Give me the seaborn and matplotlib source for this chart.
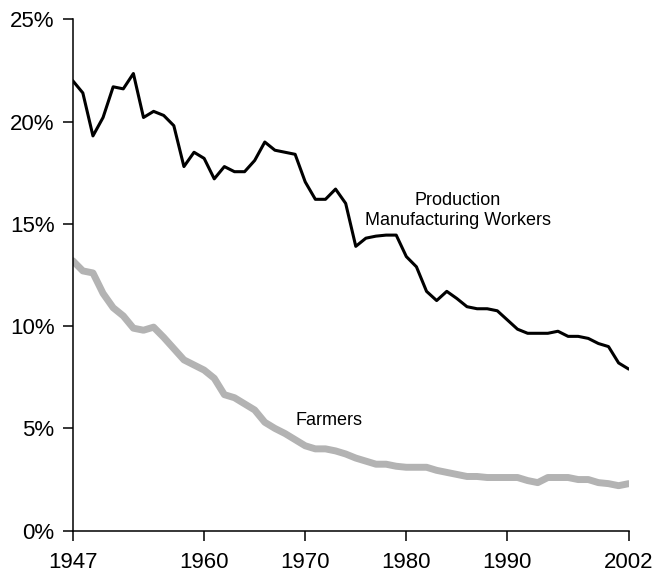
import numpy as np
import pandas as pd
import matplotlib
matplotlib.use("Agg")
import matplotlib.pyplot as plt
import seaborn as sns

# years 1947..2002
years = list(range(1947, 2003))

# share of workforce, percent
production_workers = [
    22.0, 21.4, 19.3, 20.2, 21.7, 21.6, 22.35, 20.2, 20.5, 20.3,
    19.8, 17.8, 18.5, 18.2, 17.2, 17.8, 17.55, 17.55, 18.1, 19.0,
    18.6, 18.5, 18.4, 17.05, 16.2, 16.2, 16.7, 16.0, 13.9, 14.3,
    14.4, 14.45, 14.45, 13.4, 12.9, 11.7, 11.25, 11.7, 11.35, 10.95,
    10.85, 10.85, 10.75, 10.3, 9.85, 9.65, 9.65, 9.65, 9.75, 9.5,
    9.5, 9.4, 9.15, 9.0, 8.2, 7.9,
]
farmers = [
    13.2, 12.7, 12.6, 11.6, 10.9, 10.5, 9.9, 9.8, 9.95, 9.45,
    8.9, 8.35, 8.1, 7.85, 7.45, 6.65, 6.5, 6.2, 5.9, 5.3,
    5.0, 4.75, 4.45, 4.15, 4.0, 4.0, 3.9, 3.75, 3.55, 3.4,
    3.25, 3.25, 3.15, 3.1, 3.1, 3.1, 2.95, 2.85, 2.75, 2.65,
    2.65, 2.6, 2.6, 2.6, 2.6, 2.45, 2.35, 2.6, 2.6, 2.6,
    2.5, 2.5, 2.35, 2.3, 2.2, 2.3,
]

x_ticks = [1947, 1960, 1970, 1980, 1990, 2002]
y_ticks = [0, 5, 10, 15, 20, 25]

df = pd.DataFrame({
    "year": years * 2,
    "share": production_workers + farmers,
    "group": ["Production"] * len(years) + ["Farmers"] * len(years),
})

sns.set_style("ticks")
plt.rcParams['font.family'] = ['Liberation Sans', 'DejaVu Sans']
plt.rcParams['text.color'] = 'black'

fig = plt.figure(figsize=(6.63, 5.71), dpi=100)
ax = fig.add_axes([0.1097, 0.0706, 0.8386, 0.8956])

# farmers first so the black line sits on top
sns.lineplot(data=df[df["group"] == "Farmers"], x="year", y="share",
             color="#b3b3b3", linewidth=5, ax=ax)
sns.lineplot(data=df[df["group"] == "Production"], x="year", y="share",
             color="black", linewidth=2.2, ax=ax)

ax.set_xlim(1947, 2002)
ax.set_ylim(0, 25)
ax.set_xticks(x_ticks)
ax.set_yticks(y_ticks)
ax.set_yticklabels([f"{v}%" for v in y_ticks])
ax.set_xlabel("")
ax.set_ylabel("")

for side in ["top", "right"]:
    ax.spines[side].set_visible(False)
for side in ["left", "bottom"]:
    ax.spines[side].set_linewidth(1.1)
    ax.spines[side].set_color("black")
ax.tick_params(axis="both", direction="out", length=7, width=1.1,
               colors="black", labelsize=16)
ax.tick_params(axis="y", pad=6)
ax.tick_params(axis="x", pad=8)

ax.text(1985.1, 15.65, "Production\nManufacturing Workers", ha="center",
        va="center", multialignment="center", fontsize=13)
ax.text(1969.0, 5.4, "Farmers", ha="left", va="center", fontsize=13)

fig.savefig("out.png", dpi=100)
